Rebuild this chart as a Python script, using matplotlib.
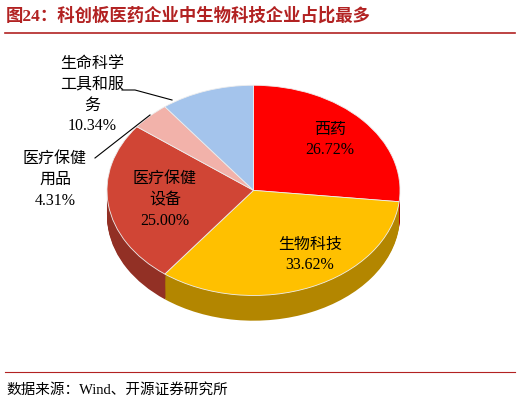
import matplotlib
matplotlib.use("Agg")
import matplotlib.pyplot as plt
from matplotlib.colors import to_rgb

labels = ["西药", "生物科技", "医疗保健\n设备", "医疗保健\n用品", "生命科学\n工具和服\n务"]
values = [26.72, 33.62, 25.00, 4.31, 10.34]
colors = ["#FF0000", "#FFC000", "#D04535", "#F2B2AA", "#A4C4EC"]

fam = ["Liberation Serif", "Noto Sans CJK SC"]
plt.rcParams['font.family'] = fam

fig = plt.figure(figsize=(5.2, 4.08), dpi=100)
ax = fig.add_axes([107/520, 1-327/408, 293/520, 247/408])
ax.axis("off")

dark = [tuple(c*0.7 for c in to_rgb(col)) for col in colors]
N = 24
depth = 0.24
for i in range(N, 0, -1):
    off = depth * i / N
    ax.pie(values, colors=dark, startangle=90, counterclock=False,
           center=(0, -off), radius=1, wedgeprops=dict(linewidth=0), frame=False)
ax.pie(values, colors=colors, startangle=90, counterclock=False,
       center=(0, 0), radius=1, wedgeprops=dict(linewidth=0.6, edgecolor="#eeeeee"), frame=False)
ax.set_aspect("auto")
ax.set_xlim(-1, 1)
ax.set_ylim(-1.3, 1.05)

def px(x, y):
    return x/520, 1-y/408

fs = 11.5
fig.text(*px(330, 140), "西药\n26.72%", ha="center", va="center", fontsize=fs, linespacing=1.4)
fig.text(*px(310, 255), "生物科技\n33.62%", ha="center", va="center", fontsize=fs, linespacing=1.4)
fig.text(*px(165, 200), "医疗保健\n设备\n25.00%", ha="center", va="center", fontsize=fs, linespacing=1.4)
fig.text(*px(55, 180), "医疗保健\n用品\n4.31%", ha="center", va="center", fontsize=fs, linespacing=1.4)
fig.text(*px(92, 95), "生命科学\n工具和服\n务\n10.34%", ha="center", va="center", fontsize=fs, linespacing=1.4)

fig.add_artist(plt.Line2D([122/520, 135/520, 172/520], [1-90/408, 1-90/408, 1-100/408], color="black", lw=0.8))
fig.add_artist(plt.Line2D([95/520, 150/520], [1-158/408, 1-115/408], color="black", lw=0.8))

fig.text(*px(6, 16), "图24：科创板医药企业中生物科技企业占比最多", ha="left", va="center",
         fontsize=12.5, fontweight="bold", color="#B22222")
fig.add_artist(plt.Line2D([0.01, 0.99], [1-33/408]*2, color="#B22222", lw=1.2))
fig.add_artist(plt.Line2D([0.01, 0.99], [1-372/408]*2, color="#B22222", lw=0.8))
fig.text(*px(6, 390), "数据来源：Wind、开源证券研究所", ha="left", va="center", fontsize=10.5)

fig.savefig("out.png", dpi=100)
